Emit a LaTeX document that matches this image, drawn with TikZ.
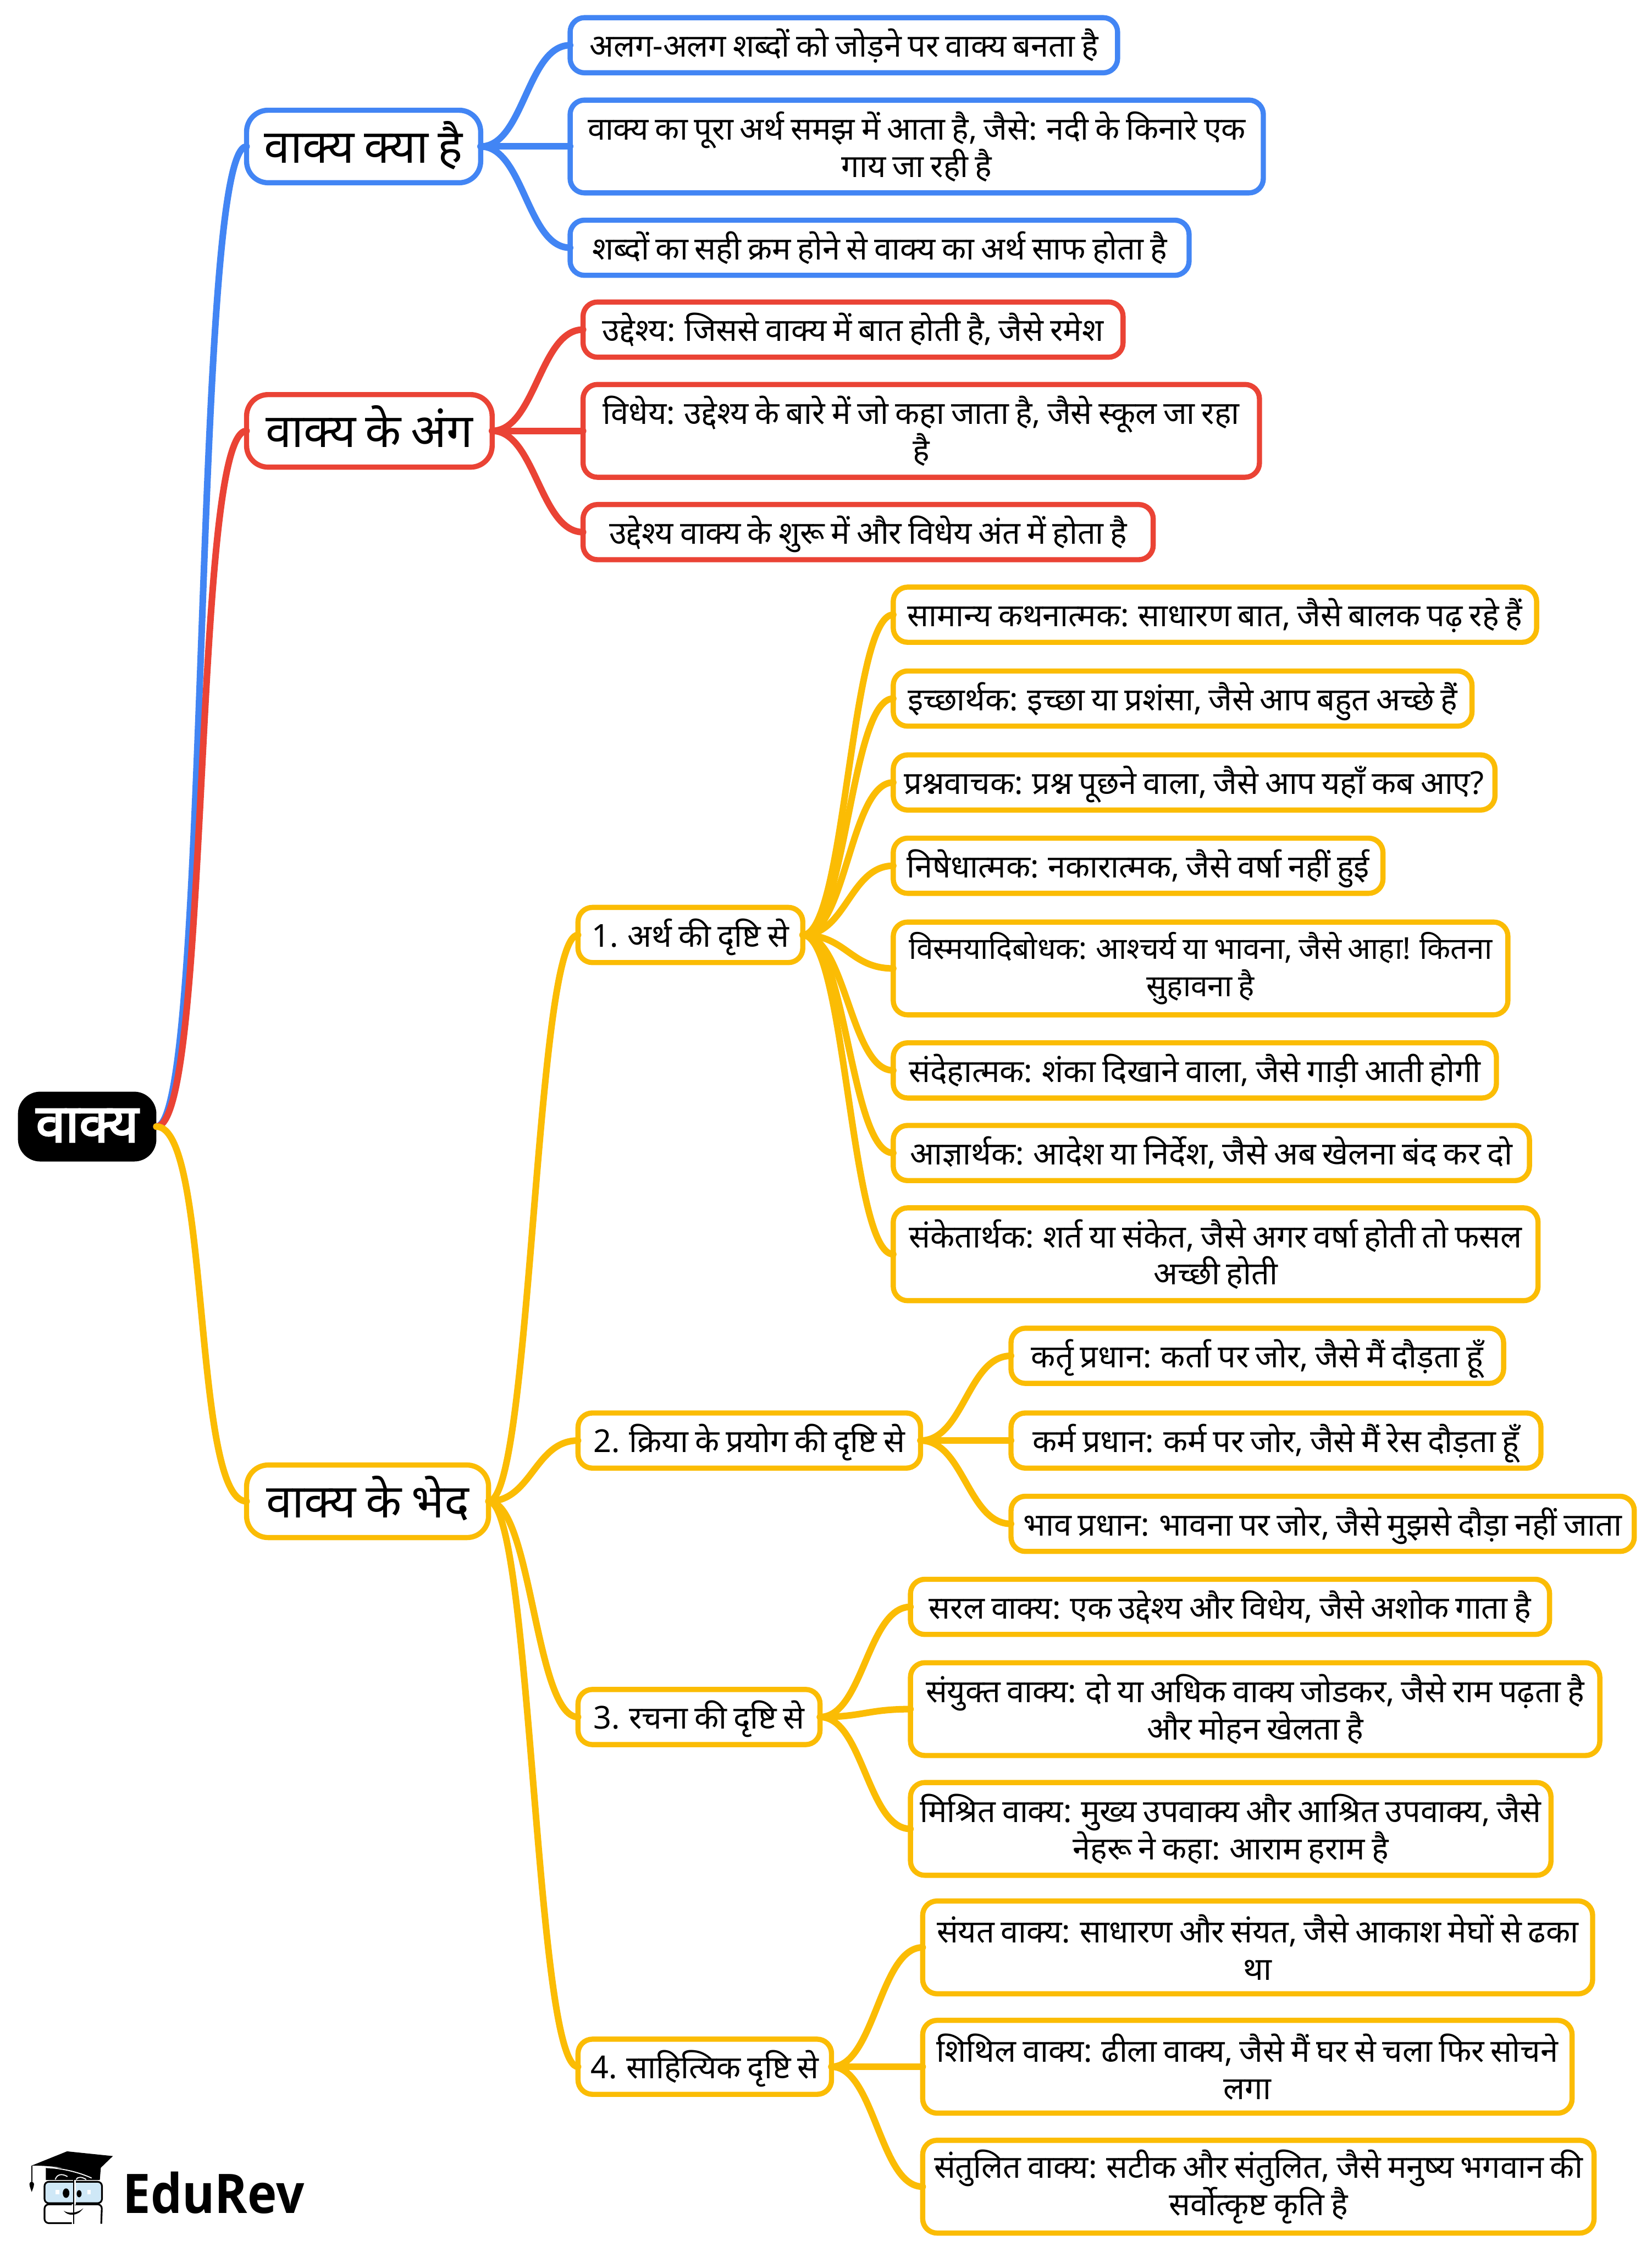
\documentclass[tikz,border=0pt]{standalone}
\usepackage{fontspec}
\setmainfont[Script=Devanagari,WordSpace=0.8]{Noto Sans}
\newfontfamily\heavyfont[Script=Devanagari,FakeBold=3]{Noto Sans}
\newfontfamily\logofont[FakeStretch=0.91]{Open Sans}
\usepackage{tikz}
\usetikzlibrary{positioning}
\definecolor{mapblue}{HTML}{4285F4}
\definecolor{mapred}{HTML}{EA4335}
\definecolor{mapyellow}{HTML}{FBBC04}
\definecolor{lensblue}{HTML}{CFE8F7}
\tikzset{
	root node/.style={rounded corners=15.5pt,fill=black,text=white,inner sep=0pt,outer sep=0pt,minimum width=96.4pt,minimum height=48.6pt,text height=26pt,text depth=4.4pt,font=\fontsize{37}{40}\heavyfont},
	main node/.style={rounded corners=15pt,draw=#1,line width=3.6pt,fill=white,inner sep=0pt,outer sep=0pt,minimum height=50.5pt,text height=28pt,text depth=4.8pt,font=\fontsize{32.5}{38}\selectfont},
	sub node/.style={rounded corners=10pt,draw=#1,line width=3.6pt,fill=white,inner sep=0pt,outer sep=0pt,minimum height=38.4pt,text height=20pt,text depth=3.6pt,font=\fontsize{22}{26}\selectfont},
	double node/.style={rounded corners=10pt,draw=#1,line width=3.6pt,fill=white,inner sep=0pt,outer sep=0pt,align=center,minimum height=64.6pt,font=\fontsize{22}{26}\selectfont},
	branch/.style={to path={.. controls +(#1,0) and +(-#1,0) .. (\tikztotarget) \tikztonodes}},
	link/.style={draw=#1,line width=4.6pt,line cap=round},
}

\begin{document}
\begin{tikzpicture}[x=1pt,y=-1pt]
	\useasboundingbox (0,0) rectangle (1150,1568);

	\node[root node] (root) at (60.7,784.4) {वाक्य};

	% first level
	\node[main node=mapblue,minimum width=163pt] (what) [above right = 682.4pt and 62.8pt of root.east,anchor=west] {वाक्य क्या है};
	\node[main node=mapred,minimum width=171pt] (parts) [above right = 484.4pt and 62.8pt of root.east,anchor=west] {वाक्य के अंग};
	\node[main node=mapyellow,minimum width=168.5pt] (kinds) [below right = 260.9pt and 62.8pt of root.east,anchor=west] {वाक्य के भेद};

	% blue leaves
	\node[double node=mapblue,minimum width=482.7pt] (what2) [right = 62.3pt of what] {वाक्य का पूरा अर्थ समझ में आता है, जैसे: नदी के किनारे एक\\गाय जा रही है};
	\node[sub node=mapblue,minimum width=381.2pt] (what1) [above = 19pt of what2.north west,anchor=south west] {अलग-अलग शब्दों को जोड़ने पर वाक्य बनता है};
	\node[sub node=mapblue,minimum width=431pt] (what3) [below = 19pt of what2.south west,anchor=north west] {शब्दों का सही क्रम होने से वाक्य का अर्थ साफ होता है};

	% red leaves
	\node[double node=mapred,minimum width=471pt] (parts2) [right = 63.3pt of parts] {विधेय: उद्देश्य के बारे में जो कहा जाता है, जैसे स्कूल जा रहा\\है};
	\node[sub node=mapred,minimum width=376pt] (parts1) [above = 19pt of parts2.north west,anchor=south west] {उद्देश्य: जिससे वाक्य में बात होती है, जैसे रमेश};
	\node[sub node=mapred,minimum width=397pt] (parts3) [below = 19pt of parts2.south west,anchor=north west] {उद्देश्य वाक्य के शुरू में और विधेय अंत में होता है};

	% four groups
	\node[sub node=mapyellow,minimum width=156.5pt] (sense) [above right = 394.3pt and 62.3pt of kinds.east,anchor=west] {1. अर्थ की दृष्टि से};
	\node[sub node=mapyellow,minimum width=238.5pt] (verb) [above right = 42.3pt and 62.3pt of kinds.east,anchor=west] {2. क्रिया के प्रयोग की दृष्टि से};
	\node[sub node=mapyellow,minimum width=168.5pt] (form) [below right = 150.2pt and 62.3pt of kinds.east,anchor=west] {3. रचना की दृष्टि से};
	\node[sub node=mapyellow,minimum width=176.5pt] (style) [below right = 393.7pt and 62.3pt of kinds.east,anchor=west] {4. साहित्यिक दृष्टि से};

	% group 1
	\node[sub node=mapyellow,minimum width=448pt] (sense1) [above right = 223pt and 63pt of sense.east,anchor=west] {सामान्य कथनात्मक: साधारण बात, जैसे बालक पढ़ रहे हैं};
	\node[sub node=mapyellow,minimum width=403pt] (sense2) [below = 20pt of sense1.south west,anchor=north west] {इच्छार्थक: इच्छा या प्रशंसा, जैसे आप बहुत अच्छे हैं};
	\node[sub node=mapyellow,minimum width=419pt] (sense3) [below = 20pt of sense2.south west,anchor=north west] {प्रश्नवाचक: प्रश्न पूछने वाला, जैसे आप यहाँ कब आए?};
	\node[sub node=mapyellow,minimum width=341pt] (sense4) [below = 19.6pt of sense3.south west,anchor=north west] {निषेधात्मक: नकारात्मक, जैसे वर्षा नहीं हुई};
	\node[double node=mapyellow,minimum width=428pt,font=\fontsize{21}{26}\selectfont] (sense5) [below = 20pt of sense4.south west,anchor=north west] {विस्मयादिबोधक: आश्चर्य या भावना, जैसे आहा! कितना\\सुहावना है};
	\node[sub node=mapyellow,minimum width=420pt] (sense6) [below = 19.5pt of sense5.south west,anchor=north west] {संदेहात्मक: शंका दिखाने वाला, जैसे गाड़ी आती होगी};
	\node[sub node=mapyellow,minimum width=443pt] (sense7) [below = 19.1pt of sense6.south west,anchor=north west] {आज्ञार्थक: आदेश या निर्देश, जैसे अब खेलना बंद कर दो};
	\node[double node=mapyellow,minimum width=449pt] (sense8) [below = 19pt of sense7.south west,anchor=north west] {संकेतार्थक: शर्त या संकेत, जैसे अगर वर्षा होती तो फसल\\अच्छी होती};

	% group 2
	\node[sub node=mapyellow,minimum width=369pt] (verb2) [right = 63pt of verb] {कर्म प्रधान: कर्म पर जोर, जैसे मैं रेस दौड़ता हूँ};
	\node[sub node=mapyellow,minimum width=343pt] (verb1) [above = 20.6pt of verb2.north west,anchor=south west] {कर्तृ प्रधान: कर्ता पर जोर, जैसे मैं दौड़ता हूँ};
	\node[sub node=mapyellow,minimum width=434pt] (verb3) [below = 19.6pt of verb2.south west,anchor=north west] {भाव प्रधान: भावना पर जोर, जैसे मुझसे दौड़ा नहीं जाता};

	% group 3
	\node[double node=mapyellow,minimum width=480pt] (form2) [above right = 5.5pt and 63pt of form.east,anchor=west] {संयुक्त वाक्य: दो या अधिक वाक्य जोडकर, जैसे राम पढ़ता है\\और मोहन खेलता है};
	\node[sub node=mapyellow,minimum width=445pt] (form1) [above = 19.7pt of form2.north west,anchor=south west] {सरल वाक्य: एक उद्देश्य और विधेय, जैसे अशोक गाता है};
	\node[double node=mapyellow,minimum width=446pt] (form3) [below = 18.8pt of form2.south west,anchor=north west] {मिश्रित वाक्य: मुख्य उपवाक्य और आश्रित उपवाक्य, जैसे\\नेहरू ने कहा: आराम हराम है};

	% group 4
	\node[double node=mapyellow,minimum width=452.2pt] (style2) [right = 63.5pt of style] {शिथिल वाक्य: ढीला वाक्य, जैसे मैं घर से चला फिर सोचने\\लगा};
	\node[double node=mapyellow,minimum width=466.5pt] (style1) [above = 18.5pt of style2.north west,anchor=south west] {संयत वाक्य: साधारण और संयत, जैसे आकाश मेघों से ढका\\था};
	\node[double node=mapyellow,minimum width=467.5pt] (style3) [below = 18.9pt of style2.south west,anchor=north west] {संतुलित वाक्य: सटीक और संतुलित, जैसे मनुष्य भगवान की\\सर्वोत्कृष्ट कृति है};

	% connectors
	\path[link=mapblue]
	(root.east) edge[branch=38] (what.west)
	(what.east) edge[branch=30] (what1.west)
	(what.east) edge (what2.west)
	(what.east) edge[branch=30] (what3.west)
	;
	\path[link=mapred]
	(root.east) edge[branch=38] (parts.west)
	(parts.east) edge[branch=30] (parts1.west)
	(parts.east) edge (parts2.west)
	(parts.east) edge[branch=30] (parts3.west)
	;
	\path[link=mapyellow]
	(root.east) edge[branch=38] (kinds.west)
	(kinds.east) edge[branch=30] (sense.west)
	(kinds.east) edge[branch=30] (verb.west)
	(kinds.east) edge[branch=30] (form.west)
	(kinds.east) edge[branch=30] (style.west)
	(sense.east) edge[branch=30] (sense1.west)
	(sense.east) edge[branch=30] (sense2.west)
	(sense.east) edge[branch=30] (sense3.west)
	(sense.east) edge[branch=30] (sense4.west)
	(sense.east) edge[branch=30] (sense5.west)
	(sense.east) edge[branch=30] (sense6.west)
	(sense.east) edge[branch=30] (sense7.west)
	(sense.east) edge[branch=30] (sense8.west)
	(verb.east) edge[branch=30] (verb1.west)
	(verb.east) edge (verb2.west)
	(verb.east) edge[branch=30] (verb3.west)
	(form.east) edge[branch=30] (form1.west)
	(form.east) edge[branch=30] (form2.west)
	(form.east) edge[branch=30] (form3.west)
	(style.east) edge[branch=30] (style1.west)
	(style.east) edge (style2.west)
	(style.east) edge[branch=30] (style3.west)
	;

	% logo
	\fill (31.9,1509.3) -- (70.2,1509.3) -- (69.5,1517.9) -- (31.9,1517.9) -- cycle;
	\fill (22.1,1507.8) -- (46.7,1497.9) -- (78.6,1501.2) -- (63.8,1515.5) .. controls (56,1511) and (40,1507.8) .. (22.1,1507.8) -- cycle;
	\draw[white,line width=.7pt] (31.9,1509.2) .. controls (42,1509.5) and (54,1512) .. (63.8,1516.5);
	\draw[white,line width=.7pt] (38.5,1517.5) .. controls (39.5,1514) and (43,1513) .. (47,1515.5);
	\draw[white,line width=.7pt] (53,1517.5) .. controls (54,1515.5) and (57,1515.5) .. (60,1517.5);
	\draw[line width=.6pt] (22.1,1507.8) -- (22.1,1519.1);
	\fill (20.5,1520.5) .. controls (21,1518.5) and (23,1518.5) .. (23.7,1520.5) .. controls (23.7,1522.5) and (22.6,1524.5) .. (22.1,1526.2) .. controls (21.6,1524.5) and (20.5,1522.5) .. (20.5,1520.5) -- cycle;
	\draw[line width=1.2pt,fill=lensblue,rounded corners=3pt] (31,1519.1) rectangle (71,1534);
	\draw[line width=1.2pt,rounded corners=3pt] (50,1534.8) -- (31,1534.8) -- (31,1547.9) -- (50,1547.9);
	\draw[line width=1.2pt,rounded corners=3pt] (52,1534.8) -- (71,1534.8) -- (70.5,1548.3);
	\fill[white] (51.3,1517.9) rectangle (52.8,1535);
	\draw[line width=.9pt] (51.3,1517.9) -- (51.3,1548.3);
	\fill (46,1527) ellipse [x radius=2.3pt,y radius=3.3pt];
	\fill (55.1,1527.4) ellipse [x radius=1.7pt,y radius=2.5pt];
	\fill[white] (38.6,1524.6) rectangle (41.2,1527.8);
	\fill[white] (60.7,1524.6) rectangle (63.3,1527.8);
	\fill (44.4,1539.3) .. controls (47,1543) and (54,1543.5) .. (58,1537.5) .. controls (54,1541) and (48,1541.5) .. (44.4,1539.3) -- cycle;
	\node[inner sep=0pt,anchor=base west,font=\fontsize{38}{40}\logofont\bfseries] (brand) at (85.5,1541) {EduRev};
\end{tikzpicture}
\end{document}
